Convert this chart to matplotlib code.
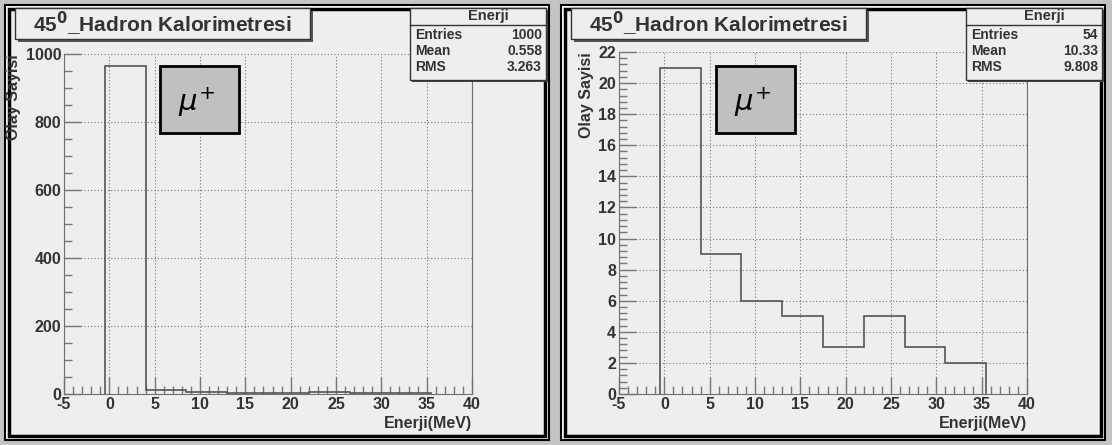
import matplotlib.pyplot as plt
from matplotlib.patches import Rectangle
from matplotlib.ticker import MultipleLocator

plt.rcParams["font.family"] = ["Liberation Sans", "DejaVu Sans"]
plt.rcParams["axes.unicode_minus"] = False

# histogram data
edges = [-0.5, 4.0, 8.5, 13.0, 17.5, 22.0, 26.5, 31.0, 35.5]
counts_left = [965, 11, 5, 4, 3, 5, 4, 3]
counts_right = [21, 9, 6, 5, 3, 5, 3, 2]
title = r"45$^{\mathbf{0}}$_Hadron Kalorimetresi"
stats_left = [("Entries", "1000"), ("Mean", "0.558"), ("RMS", "3.263")]
stats_right = [("Entries", "54"), ("Mean", "10.33"), ("RMS", "9.808")]
x_ticks = [-5, 0, 5, 10, 15, 20, 25, 30, 35, 40]

W, H = 1112, 445
BG = "#efeeec"
TXT = "#333333"
fig = plt.figure(figsize=(W / 100, H / 100), dpi=100, facecolor="#c4c4c4")


def px(x, y, w, h):
    # pixel box (top-left origin) -> figure fraction
    return [x / W, 1 - (y + h) / H, w / W, h / H]


def frect(x, y, w, h, **kw):
    r = Rectangle((x / W, 1 - (y + h) / H), w / W, h / H,
                  transform=fig.transFigure, **kw)
    fig.patches.append(r)
    return r


def panel(x0, counts, ymax, ymajor, yminor, stats, ax_box):
    # double frame, behind the axes
    frect(x0 + 5, 5, 544, 435, facecolor="white", edgecolor="black", lw=1.5,
          zorder=-3)
    frect(x0 + 9, 9, 536, 427, facecolor=BG, edgecolor="black", lw=2.5,
          zorder=-2)

    ax = fig.add_axes(px(*ax_box))
    ax.set_facecolor(BG)
    ax.stairs(counts, edges, baseline=0, color="#555555", lw=1.2, zorder=3)
    ax.set_xlim(-5, 40)
    ax.set_ylim(0, ymax)
    ax.set_xticks(x_ticks)
    ax.xaxis.set_minor_locator(MultipleLocator(1))
    ax.yaxis.set_major_locator(MultipleLocator(ymajor))
    ax.yaxis.set_minor_locator(MultipleLocator(yminor))
    ax.grid(True, which="major", ls=(0, (1, 2)), color="#777777", lw=0.8)
    ax.tick_params(which="both", direction="in", color="#777777",
                   labelsize=11.5, labelcolor=TXT, pad=2)
    ax.tick_params(which="major", length=12, width=1)
    ax.tick_params(which="minor", length=6, width=1)
    ax.tick_params(axis="x", pad=2)
    fig.canvas.draw()
    for lab in ax.get_xticklabels() + ax.get_yticklabels():
        lab.set_fontweight("bold")
    for s in ("left", "bottom", "right"):
        ax.spines[s].set_color("#707070")
    ax.spines["top"].set_visible(False)
    ax.set_xlabel("Enerji(MeV)", fontsize=11.5, color=TXT,
                  fontweight="bold", loc="right", labelpad=3)
    ax.set_ylabel("Olay Sayisi", fontsize=11.5, color=TXT,
                  fontweight="bold", loc="top", labelpad=3)

    # title box with shadow
    frect(x0 + 18, 11, 295, 31, facecolor="#555555", edgecolor="none")
    frect(x0 + 15, 8, 295, 31, facecolor=BG, edgecolor=TXT, lw=1)
    fig.text((x0 + 162) / W, 1 - 24 / H, title, ha="center", va="center",
             fontsize=15, fontweight="bold", color=TXT)

    # stats box with shadow
    sx, sw = x0 + 410, 136
    frect(sx + 2, 10, sw, 72, facecolor="#444444", edgecolor="none")
    frect(sx, 8, sw, 72, facecolor=BG, edgecolor=TXT, lw=1)
    fig.text((sx + sw / 2 + 10) / W, 1 - 16 / H, "Enerji", ha="center",
             va="center", fontsize=10.5, fontweight="bold", color=TXT)
    fig.add_artist(plt.Line2D([sx / W, (sx + sw) / W], [1 - 25 / H] * 2,
                              color=TXT, lw=1))
    for i, (k, v) in enumerate(stats):
        y = 1 - (35 + i * 16) / H
        fig.text((sx + 5) / W, y, k, ha="left", va="center", fontsize=10,
                 fontweight="bold", color=TXT)
        fig.text((sx + sw - 4) / W, y, v, ha="right", va="center",
                 fontsize=10, fontweight="bold", color=TXT)

    # mu+ box
    frect(x0 + 160, 66, 79, 67, facecolor="#c0c0c0", edgecolor="black", lw=2)
    fig.text((x0 + 197) / W, 1 - 102 / H, r"$\mu^{+}$", ha="center",
             va="center", fontsize=21, color="black")
    return ax


panel(0, counts_left, 1000, 200, 50, stats_left, (64, 54, 408, 340))
panel(556, counts_right, 22, 2, 0.4, stats_right, (619, 52, 408, 342))

fig.savefig("out.png", dpi=100, facecolor=fig.get_facecolor())
